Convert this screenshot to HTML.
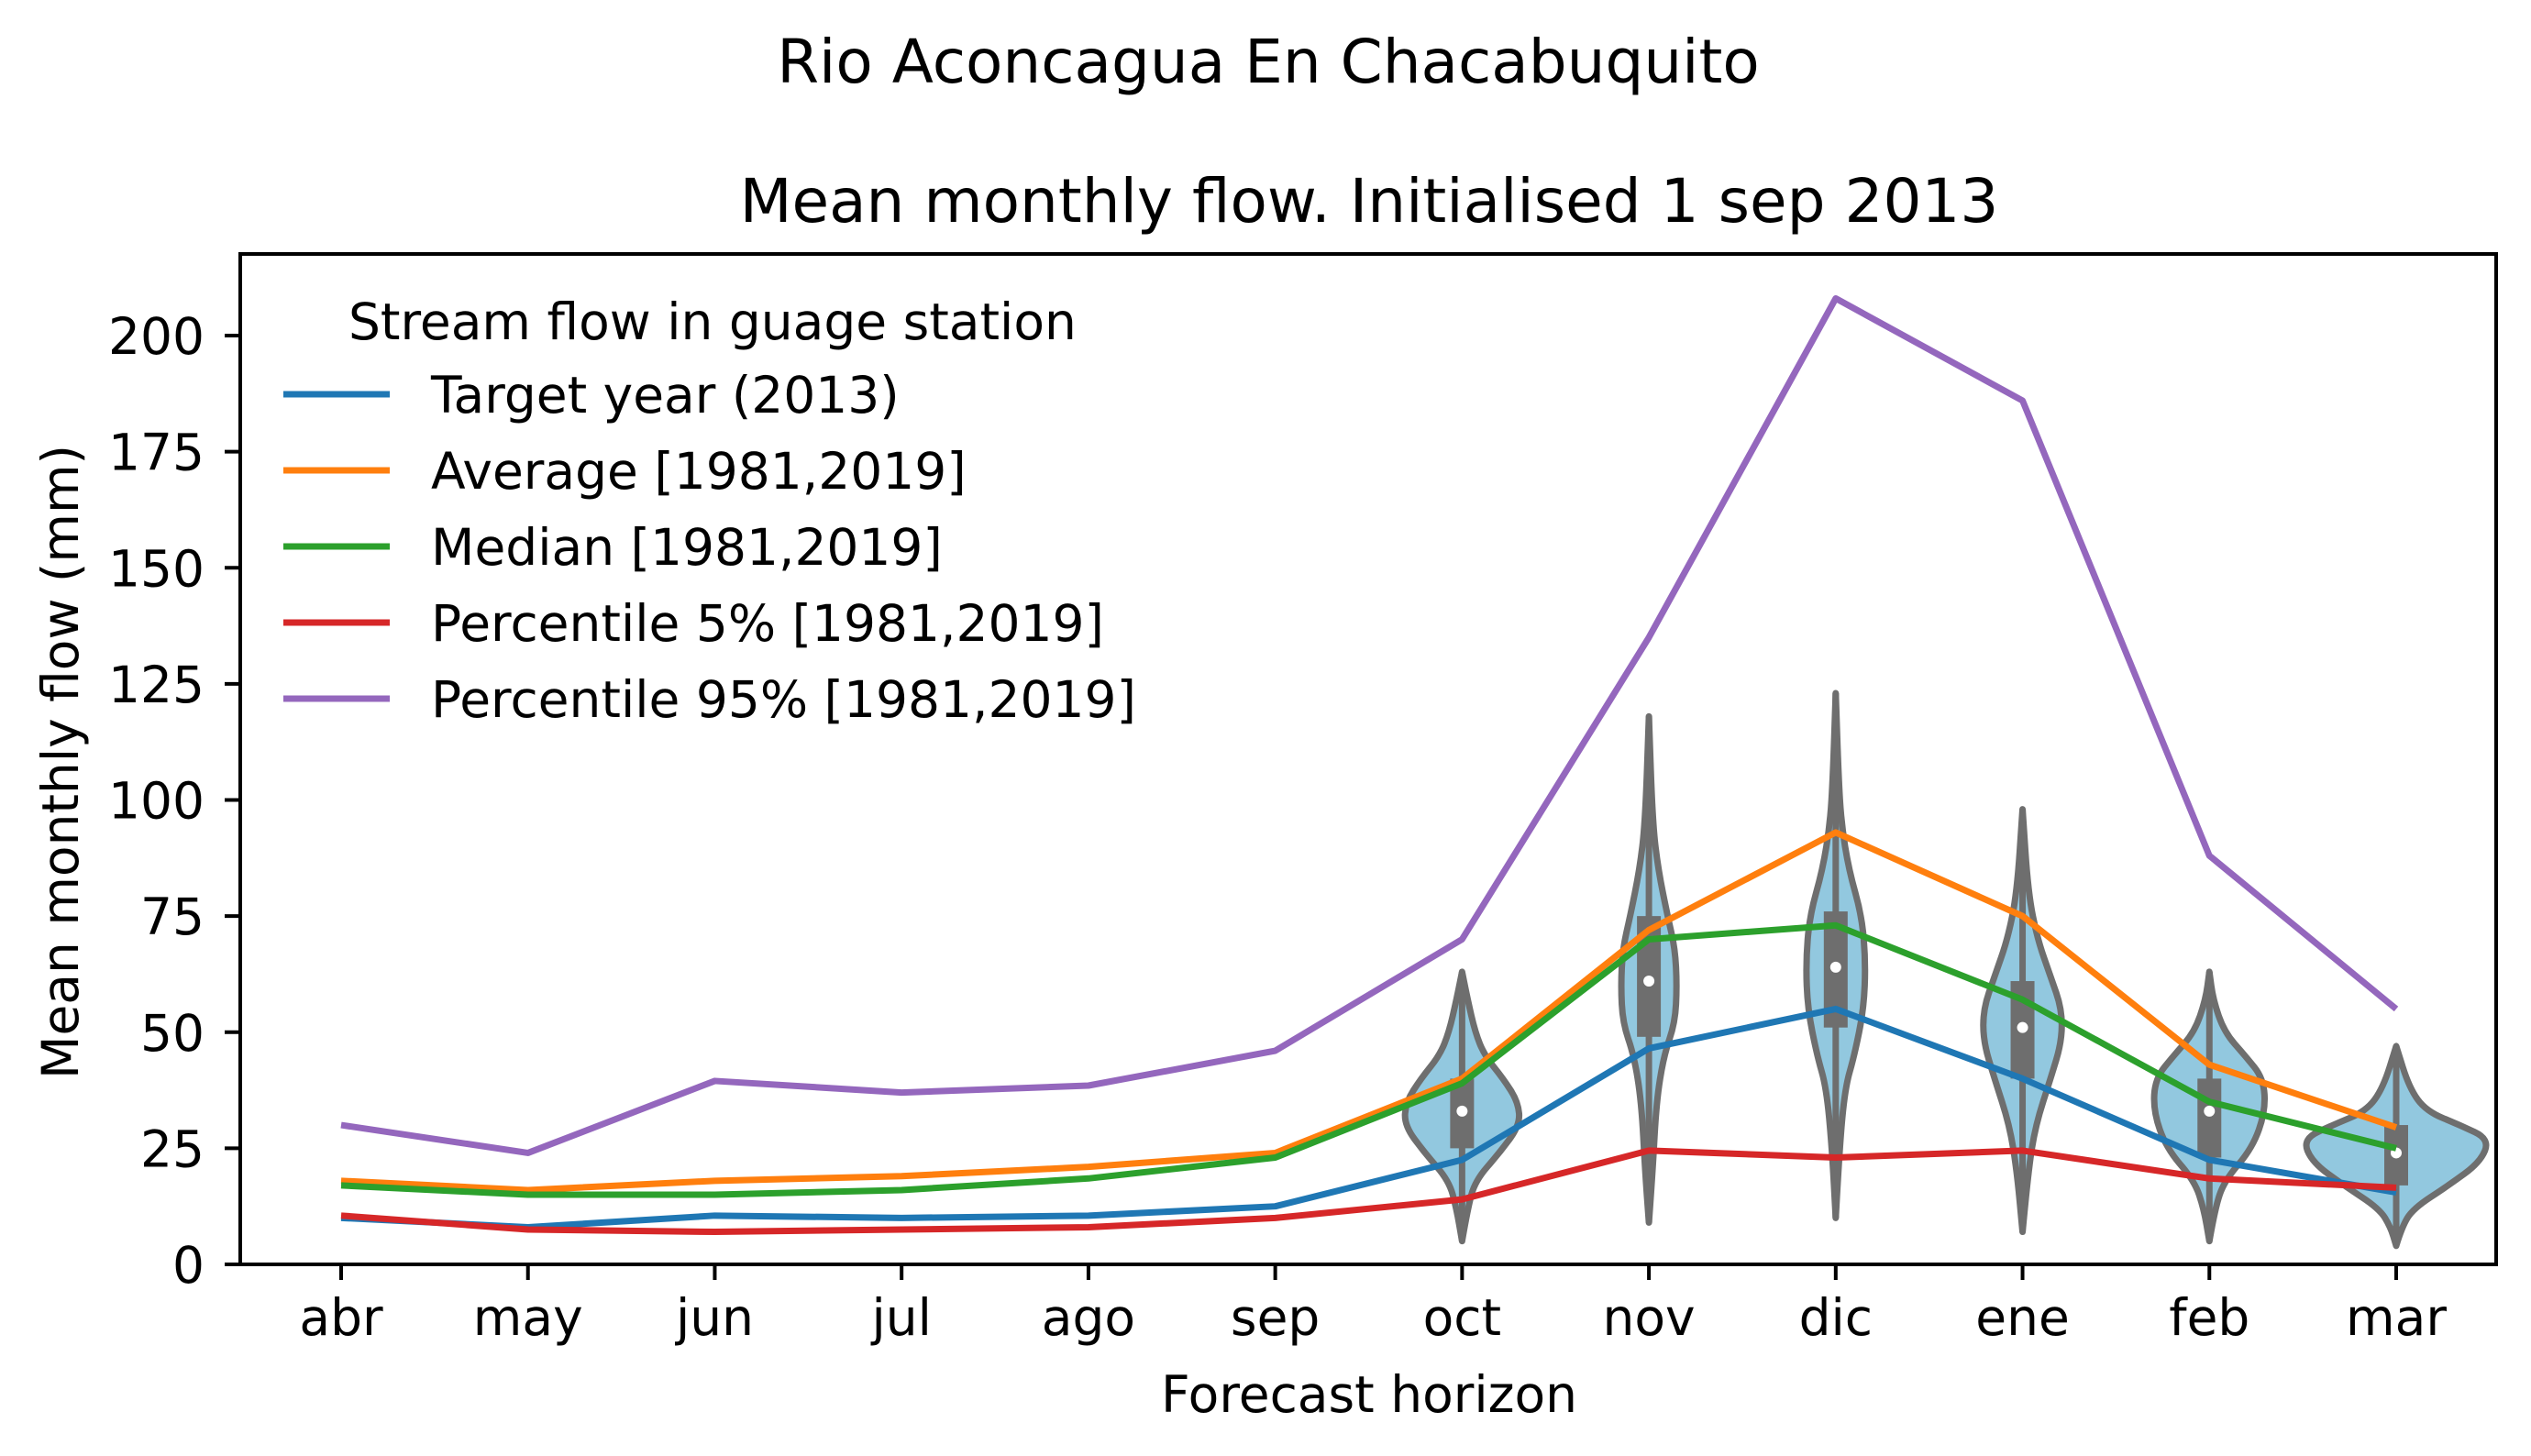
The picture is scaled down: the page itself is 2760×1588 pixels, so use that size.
<!DOCTYPE html>
<html><head><meta charset="utf-8"><style>
html,body{margin:0;padding:0;background:#fff;}
svg{display:block;font-family:"DejaVu Sans","Liberation Sans",sans-serif;}
</style></head><body>
<svg id="chart" width="2760" height="1588" viewBox="0 0 2760 1588" xmlns="http://www.w3.org/2000/svg">
<rect width="2760" height="1588" fill="#fff"/>
<text x="1383" y="90" font-size="66" text-anchor="middle">Rio Aconcagua En Chacabuquito</text>
<text x="1493" y="242" font-size="66" text-anchor="middle">Mean monthly flow. Initialised 1 sep 2013</text>
<g id="plot"></g>
<text x="1493" y="1540" font-size="55" text-anchor="middle">Forecast horizon</text>
<text transform="translate(85,831) rotate(-90)" font-size="55" text-anchor="middle">Mean monthly flow (mm)</text>
</svg>
<script>
const months = ["abr","may","jun","jul","ago","sep","oct","nov","dic","ene","feb","mar"];
const yTicks = [0,25,50,75,100,125,150,175,200];
const target = [10,8,10.5,10,10.5,12.5,22.5,46.5,55,40,22.5,15.5];
const average = [18,16,18,19,21,24,40,72,93,75,43,29.5];
const median = [17,15,15,16,18.5,23,39,70,73,57,35,25];
const p5 = [10.5,7.5,7,7.5,8,10,14,24.5,23,24.5,18.5,16.5];
const p95 = [30,24,39.5,37,38.5,46,70,135,208,186,88,55];
const violinIdx = [6,7,8,9,10,11];
const vMin = [5,9,10,7,5,4];
const vMax = [63,118,123,98,63,47];
const vQ1 = [25,49,51,40,23,17];
const vMed = [33,61,64,51,33,24];
const vQ3 = [40,75,76,61,40,30];
const vProfVals = [
 [5,12,18,24,30,35,40,45,50,57,63],
 [9,20,35,45,52,60,68,75,85,95,118],
 [10,25,38,45,55,65,75,85,95,105,123],
 [7,20,30,40,48,55,62,70,80,98],
 [5,12,18,25,33,40,45,50,57,63],
 [4,8,12,17,22,27,30,33,38,47]];
const vProfW = [
 [0,0.03,0.07,0.2,0.31,0.3,0.22,0.12,0.07,0.03,0],
 [0,0.02,0.04,0.08,0.14,0.15,0.14,0.1,0.05,0.02,0],
 [0,0.02,0.05,0.1,0.15,0.16,0.14,0.07,0.03,0.015,0],
 [0,0.03,0.07,0.15,0.21,0.21,0.15,0.08,0.03,0],
 [0,0.03,0.08,0.23,0.3,0.29,0.19,0.08,0.02,0],
 [0,0.03,0.09,0.28,0.45,0.5,0.34,0.16,0.07,0]];
const legendLabels = ["Target year (2013)","Average [1981,2019]","Median [1981,2019]","Percentile 5% [1981,2019]","Percentile 95% [1981,2019]"];
const colors = ["#1f77b4","#ff7f0e","#2ca02c","#d62728","#9467bd"];

const L=262,R=2722,T=277,B=1379;
const X0=372,X11=2613;
const unit=(X11-X0)/11;
const xs = i => X0 + i*unit;
const ys = v => B - v*(B-366)/200;
const NS="http://www.w3.org/2000/svg";
const g=document.getElementById('plot');
function mk(tag,attrs,parent){const e=document.createElementNS(NS,tag);for(const k in attrs)e.setAttribute(k,attrs[k]);(parent||g).appendChild(e);return e;}

violinIdx.forEach((mi,k)=>{
  const cx=xs(mi);
  const vals=vProfVals[k], w=vProfW[k];
  let pts=[];
  for(let j=0;j<vals.length;j++) pts.push([cx+w[j]*unit, ys(vals[j])]);
  for(let j=vals.length-1;j>=0;j--) pts.push([cx-w[j]*unit, ys(vals[j])]);
  let d="M"+pts[0][0]+","+pts[0][1];
  for(let j=1;j<pts.length-1;j++){const mx=(pts[j][0]+pts[j+1][0])/2,my=(pts[j][1]+pts[j+1][1])/2;d+=" Q"+pts[j][0]+","+pts[j][1]+" "+mx+","+my;}
  d+=" L"+pts[pts.length-1][0]+","+pts[pts.length-1][1]+"Z";
  const vp=mk('path',{d:d,fill:"#92c8df",stroke:"#6e6e6e","stroke-width":7,"stroke-linejoin":"round"});
  
  
  const wl=mk('line',{x1:cx,x2:cx,y1:ys(vMin[k]),y2:ys(vMax[k]),stroke:"#6e6e6e","stroke-width":7});
  
  
  const bx=mk('rect',{x:cx-13,width:26,y:ys(vQ3[k]),height:ys(vQ1[k])-ys(vQ3[k]),fill:"#6e6e6e"});
  
  
  const md=mk('circle',{cx:cx,cy:ys(vMed[k]),r:6,fill:"#fff"});
  
  
});

const series=[target,average,median,p5,p95];
const snames=["target-line","average-line","median-line","p5-line","p95-line"];
series.forEach((s,si)=>{
  const p=mk('polyline',{points:s.map((v,i)=>xs(i)+","+ys(v)).join(" "),fill:"none",stroke:colors[si],"stroke-width":7,"stroke-linejoin":"round"});
  
  
});

const fr=mk('rect',{x:L,y:T,width:R-L,height:B-T,fill:"none",stroke:"#000","stroke-width":4});


yTicks.forEach(v=>{
  const t=mk('line',{x1:L-17,x2:L,y1:ys(v),y2:ys(v),stroke:"#000","stroke-width":4});
  
  
  const tx=mk('text',{x:L-39,y:ys(v)+20,"font-size":55,"text-anchor":"end"});
  tx.textContent=v;
  
  
});
months.forEach((m,i)=>{
  const t=mk('line',{x1:xs(i),x2:xs(i),y1:B,y2:B+17,stroke:"#000","stroke-width":4});
  
  
  const tx=mk('text',{x:xs(i),y:B+77,"font-size":55,"text-anchor":"middle"});
  tx.textContent=m;
  
  
});

const lt=mk('text',{x:380,y:370,"font-size":55});
lt.textContent="Stream flow in guage station";


legendLabels.forEach((lab,i)=>{
  const y=430+i*83;
  const ln=mk('line',{x1:309,x2:425,y1:y,y2:y,stroke:colors[i],"stroke-width":7});
  
  
  const tx=mk('text',{x:470,y:y+20,"font-size":55});
  tx.textContent=lab;
  
  
});
</script>
</body></html>
